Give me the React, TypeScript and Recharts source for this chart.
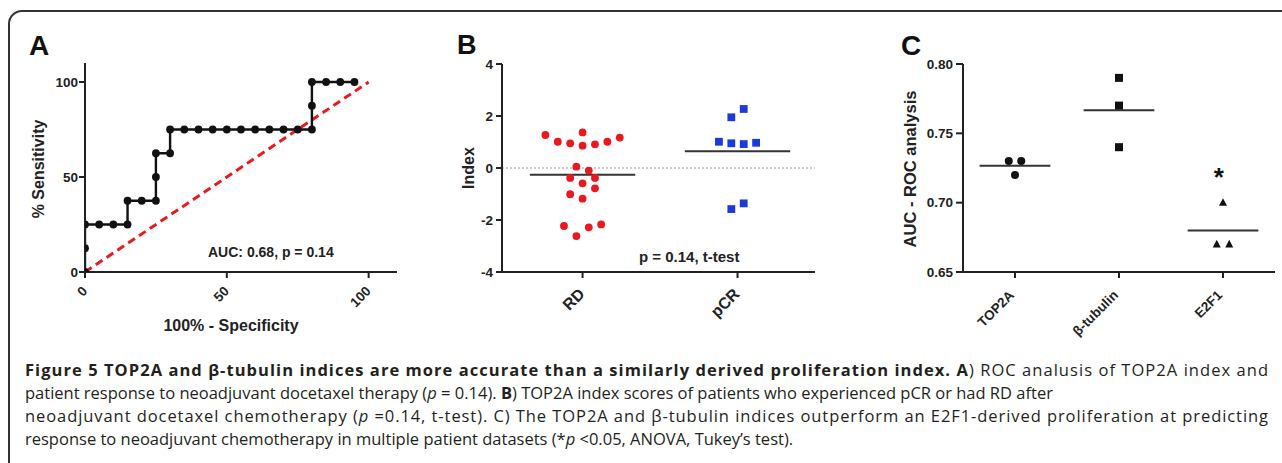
import React from 'react';
import { ComposedChart, Line, Scatter, XAxis, YAxis, ReferenceLine, ReferenceDot, Label } from 'recharts';

// ---------- Panel A: ROC curve ----------
const rocFpr = [0, 0, 0, 5, 10, 15, 15, 20, 25, 25, 25, 30, 30, 35, 40, 45, 50, 55, 60, 65, 70, 75, 80, 80, 80, 85, 90, 95];
const rocTpr = [0, 12.5, 25, 25, 25, 25, 37.5, 37.5, 37.5, 50, 62.5, 62.5, 75, 75, 75, 75, 75, 75, 75, 75, 75, 75, 75, 87.5, 100, 100, 100, 100];
const chanceStart = 0;
const chanceEnd = 100;
const rocTicks = [0, 50, 100];

// ---------- Panel B: index scores ----------
const groupLabels = ['RD', 'pCR'];
const rdOffset = [-0.24, -0.16, -0.08, 0, 0, 0.08, 0.16, 0.24, -0.04, 0.04, -0.08, 0.08, 0, 0.08, -0.08, 0, -0.12, -0.04, 0.04, 0.12];
const rdIndex = [1.27, 1.01, 0.95, 1.37, 0.86, 0.91, 1.01, 1.17, 0.05, -0.1, -0.38, -0.38, -0.59, -0.78, -1.01, -1.18, -2.23, -2.62, -2.28, -2.17];
const pcrOffset = [-0.04, 0.04, -0.12, -0.04, 0.04, 0.12, -0.04, 0.04];
const pcrIndex = [1.95, 2.27, 1.01, 0.95, 0.92, 0.97, -1.58, -1.36];
const indexTicks = [-4, -2, 0, 2, 4];

// ---------- Panel C: AUC values ----------
const aucLabels = ['TOP2A', 'β-tubulin', 'E2F1'];
const top2aOffset = [-0.06, 0.06, 0];
const top2aAuc = [0.73, 0.73, 0.72];
const tubulinOffset = [0, 0, 0];
const tubulinAuc = [0.79, 0.77, 0.74];
const e2f1Offset = [0, -0.06, 0.06];
const e2f1Auc = [0.7, 0.67, 0.67];
const aucTicks = [0.65, 0.7, 0.75, 0.8];

const AX_FONT = "'Liberation Sans', Arial, Helvetica, sans-serif";
const CAP_FONT = "'Open Sans', 'Noto Sans', sans-serif";
const INK = '#222';
const RED = '#e8191f';
const BLUE = '#1a3bd8';

const rocData = rocFpr.map((x, i) => ({ x, y: rocTpr[i] }));
const rdData = rdIndex.map((y, i) => ({ x: 1 + rdOffset[i], y }));
const pcrData = pcrIndex.map((y, i) => ({ x: 2 + pcrOffset[i], y }));
const top2aData = top2aAuc.map((y, i) => ({ x: 1 + top2aOffset[i], y }));
const tubulinData = tubulinAuc.map((y, i) => ({ x: 2 + tubulinOffset[i], y }));
const e2f1Data = e2f1Auc.map((y, i) => ({ x: 3 + e2f1Offset[i], y }));

const mean = (a: number[]) => a.reduce((s, v) => s + v, 0) / a.length;
const HALF = 0.34;

const axisStyle = { stroke: INK, strokeWidth: 2 };
const yTick = (fs: number) => ({ fontSize: fs, fontWeight: 'bold', fill: INK, fontFamily: AX_FONT });

const makeRotTick = (labels: string[] | null, fs: number, ox: number, oy: number) => (props: any) => {
  const { x, y, payload } = props;
  const v = payload.value;
  const text = labels ? labels[Math.round(v) - 1] : String(v);
  return (
    <g transform={`translate(${x + ox},${y + oy})`}>
      <text x={0} y={0} textAnchor="end" transform="rotate(-45)" fontSize={fs} fontWeight="bold" fill={INK} fontFamily={AX_FONT}>
        {text}
      </text>
    </g>
  );
};

const vTitle = (text: string, cx: number, cy: number, fs: number, weight: string) => () => (
  <text x={cx} y={cy} transform={`rotate(-90, ${cx}, ${cy})`} textAnchor="middle" dominantBaseline="central" fontSize={fs} fontWeight={weight} fill={INK} fontFamily={AX_FONT}>
    {text}
  </text>
);
const hTitle = (text: string, cx: number, by: number, fs: number) => () => (
  <text x={cx} y={by} textAnchor="middle" fontSize={fs} fontWeight="bold" fill={INK} fontFamily={AX_FONT}>
    {text}
  </text>
);

const circleShape = (r: number, color: string) => (p: any) => <circle cx={p.cx} cy={p.cy} r={r} fill={color} />;
const squareShape = (s: number, color: string) => (p: any) => <rect x={p.cx - s / 2} y={p.cy - s / 2} width={s} height={s} fill={color} />;
const triangleShape = (s: number, color: string) => (p: any) => (
  <polygon points={`${p.cx},${p.cy - s * 0.55} ${p.cx - s / 2},${p.cy + s * 0.4} ${p.cx + s / 2},${p.cy + s * 0.4}`} fill={color} />
);

const PanelA = () => (
  <ComposedChart width={430} height={340} data={rocData} margin={{ top: 63, right: 33, bottom: 28, left: 35 }}>
    <XAxis type="number" dataKey="x" domain={[0, 110]} ticks={rocTicks} interval={0} allowDataOverflow height={40} tickSize={6}
      axisLine={axisStyle} tickLine={axisStyle} tick={makeRotTick(null, 13.5, 3, 12)}>
      <Label content={hTitle('100% - Specificity', 231, 331, 16)} />
    </XAxis>
    <YAxis type="number" dataKey="y" domain={[0, 110]} ticks={rocTicks} interval={0} allowDataOverflow width={50} tickSize={6} tickMargin={1}
      axisLine={axisStyle} tickLine={axisStyle} tick={yTick(13.5)}>
      <Label content={vTitle('% Sensitivity', 38, 169, 16, 'bold')} />
    </YAxis>
    <ReferenceLine segment={[{ x: chanceStart, y: chanceStart }, { x: chanceEnd, y: chanceEnd }]} stroke={RED} strokeWidth={3} strokeDasharray="8 5" ifOverflow="visible" />
    <Line type="linear" dataKey="y" stroke="#111" strokeWidth={2.4} isAnimationActive={false}
      dot={{ r: 3.9, fill: '#111', stroke: '#111', strokeWidth: 0 }} activeDot={false} />
  </ComposedChart>
);

const PanelB = () => (
  <ComposedChart width={430} height={340} margin={{ top: 64, right: 45, bottom: 28, left: 22 }}>
    <XAxis type="number" dataKey="x" domain={[0.48, 2.5]} ticks={[1, 2]} interval={0} allowDataOverflow height={40} tickSize={6}
      axisLine={axisStyle} tickLine={axisStyle} tick={makeRotTick(groupLabels, 16, 3, 15)} />
    <YAxis type="number" dataKey="y" domain={[-4, 4]} ticks={indexTicks} interval={0} allowDataOverflow width={50} tickSize={6} tickMargin={3}
      axisLine={axisStyle} tickLine={axisStyle} tick={yTick(13.5)}>
      <Label content={vTitle('Index', 38, 168, 16, 'bold')} />
    </YAxis>
    <ReferenceLine y={0} stroke="#9a9a9a" strokeWidth={1} strokeDasharray="2 2" />
    <Scatter data={rdData} isAnimationActive={false} shape={circleShape(3.9, RED)} />
    <Scatter data={pcrData} isAnimationActive={false} shape={squareShape(7.8, BLUE)} />
    <ReferenceLine segment={[{ x: 1 - HALF, y: mean(rdIndex) }, { x: 1 + HALF, y: mean(rdIndex) }]} stroke="#333" strokeWidth={2} />
    <ReferenceLine segment={[{ x: 2 - HALF, y: mean(pcrIndex) }, { x: 2 + HALF, y: mean(pcrIndex) }]} stroke="#333" strokeWidth={2} />
  </ComposedChart>
);

const PanelC = () => (
  <ComposedChart width={432} height={340} margin={{ top: 64, right: 7, bottom: 28, left: 63 }}>
    <XAxis type="number" dataKey="x" domain={[0.5, 3.5]} ticks={[1, 2, 3]} interval={0} allowDataOverflow height={40} tickSize={6}
      axisLine={axisStyle} tickLine={axisStyle} tick={makeRotTick(aucLabels, 13.5, 0, 16)} />
    <YAxis type="number" dataKey="y" domain={[0.65, 0.8]} ticks={aucTicks} interval={0} allowDataOverflow width={50} tickSize={7} tickMargin={3}
      axisLine={axisStyle} tickLine={axisStyle} tick={yTick(13.5)} tickFormatter={(v: number) => v.toFixed(2)}>
      <Label content={vTitle('AUC - ROC analysis', 60, 169, 16.5, 'bold')} />
    </YAxis>
    <Scatter data={top2aData} isAnimationActive={false} shape={circleShape(4, '#111')} />
    <Scatter data={tubulinData} isAnimationActive={false} shape={squareShape(8, '#111')} />
    <Scatter data={e2f1Data} isAnimationActive={false} shape={triangleShape(8, '#111')} />
    <ReferenceLine segment={[{ x: 1 - HALF, y: mean(top2aAuc) }, { x: 1 + HALF, y: mean(top2aAuc) }]} stroke="#333" strokeWidth={2} />
    <ReferenceLine segment={[{ x: 2 - HALF, y: mean(tubulinAuc) }, { x: 2 + HALF, y: mean(tubulinAuc) }]} stroke="#333" strokeWidth={2} />
    <ReferenceLine segment={[{ x: 3 - HALF, y: mean(e2f1Auc) }, { x: 3 + HALF, y: mean(e2f1Auc) }]} stroke="#333" strokeWidth={2} />
    <ReferenceDot x={2.96} y={0.722} r={0} fill="none" stroke="none" ifOverflow="visible"
      label={(p: any) => (
        <text x={p.viewBox.x} y={p.viewBox.y + 14} textAnchor="middle" fontSize={26} fontWeight="bold" fill="#111" fontFamily={AX_FONT}>*</text>
      )} />
  </ComposedChart>
);

export default function App() {
  return (
    <div style={{ position: 'absolute', left: 0, top: 0, width: 1282, height: 463, overflow: 'hidden', background: '#fff' }}>
      <div style={{ position: 'absolute', left: 8, top: 10, width: 1300, height: 480, border: '2px solid #333', borderRadius: 14, boxSizing: 'border-box' }} />
      <div style={{ position: 'absolute', left: 0, top: 0 }}><PanelA /></div>
      <div style={{ position: 'absolute', left: 430, top: 0 }}><PanelB /></div>
      <div style={{ position: 'absolute', left: 850, top: 0 }}><PanelC /></div>
      <svg width={1282} height={463} style={{ position: 'absolute', left: 0, top: 0, pointerEvents: 'none' }}>
        <g fontFamily={AX_FONT} fontWeight="bold" fill="#111">
          <text x={29} y={55} fontSize={28}>A</text>
          <text x={457} y={54} fontSize={27}>B</text>
          <text x={901} y={55} fontSize={28}>C</text>
          <text x={208} y={257} fontSize={14} fill={INK}>AUC: 0.68, p = 0.14</text>
          <text x={639} y={262} fontSize={15} fill={INK}>p = 0.14, t-test</text>
        </g>
        <g fontFamily={CAP_FONT} fontSize={16.5} fill="#231f20">
          <text x={25} y={376} textLength={1243} lengthAdjust="spacing">
            <tspan fontWeight="bold">Figure 5 TOP2A and β-tubulin indices are more accurate than a similarly derived proliferation index. A</tspan>
            <tspan>) ROC analusis of TOP2A index and</tspan>
          </text>
          <text x={25} y={399}>
            <tspan>patient response to neoadjuvant docetaxel therapy (</tspan>
            <tspan fontStyle="italic">p</tspan>
            <tspan> = 0.14). </tspan>
            <tspan fontWeight="bold">B</tspan>
            <tspan>) TOP2A index scores of patients who experienced pCR or had RD after</tspan>
          </text>
          <text x={25} y={422} textLength={1243} lengthAdjust="spacing">
            <tspan>neoadjuvant docetaxel chemotherapy (</tspan>
            <tspan fontStyle="italic">p</tspan>
            <tspan> =0.14, t-test). C) The TOP2A and β-tubulin indices outperform an E2F1-derived proliferation at predicting</tspan>
          </text>
          <text x={25} y={445}>
            <tspan>response to neoadjuvant chemotherapy in multiple patient datasets (*</tspan>
            <tspan fontStyle="italic">p</tspan>
            <tspan> &lt;0.05, ANOVA, Tukey’s test).</tspan>
          </text>
        </g>
      </svg>
    </div>
  );
}
